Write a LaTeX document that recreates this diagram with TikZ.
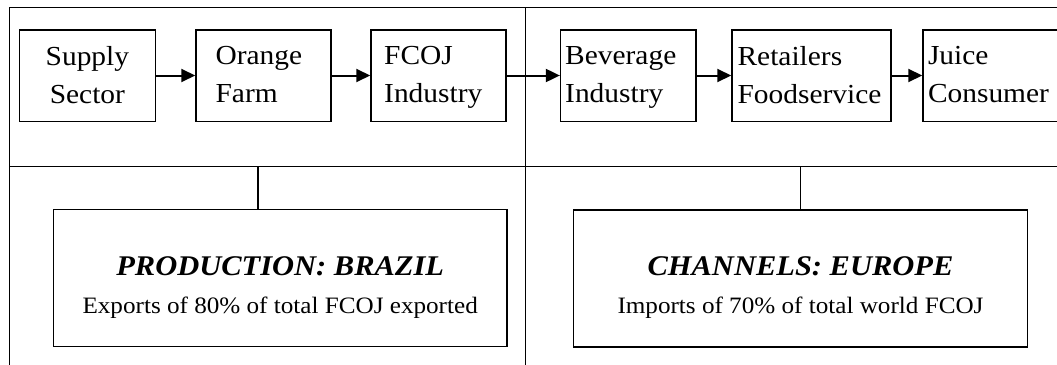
\documentclass[tikz,border=0pt]{standalone}
\usepackage{fontspec}
\setmainfont{Liberation Serif}[FakeStretch=1.07]
\usetikzlibrary{arrows.meta}
\begin{document}
\begin{tikzpicture}[x=1pt,y=-1pt,
  frameline/.style={line width=1.2pt},
  stepbox/.style={draw, line width=1.5pt, minimum height=91.5pt, inner sep=0pt},
  bigbox/.style={draw, line width=1.5pt, minimum height=137pt, minimum width=453.6pt, inner sep=0pt},
  steptext/.style={inner sep=0pt, anchor=north west, align=left, font=\fontsize{27.5}{38}\selectfont},
  boxtext/.style={inner sep=0pt, anchor=north, align=center, font=\fontsize{23.5}{37.7}\selectfont},
  flow/.style={line width=2pt, -{Triangle[length=14pt,width=13pt]}},
  tick/.style={line width=1.2pt}]
\clip (0,0) rectangle (1057,364);
% frame
\coordinate (fbl) at (9.2,400);
\coordinate (ftl) at (9.2,7.4);
\coordinate (ftr) at (1100,7.4);
\coordinate (hl) at (9.2,166.5);
\coordinate (hr) at (1100,166.5);
\coordinate (vt) at (525.5,7.4);
\coordinate (vb) at (525.5,400);
\draw[frameline] (fbl) -- (ftl) -- (ftr);
\draw[frameline] (hl) -- (hr);
\draw[frameline] (vt) -- (vb);
% top boxes
\node[stepbox, minimum width=136.2pt] (s1) at (87.4,75.5) {};
\node[stepbox, minimum width=135pt] (s2) at (263.5,75.5) {};
\node[stepbox, minimum width=135pt] (s3) at (438.5,75.5) {};
\node[stepbox, minimum width=135.4pt] (s4) at (628.3,75.5) {};
\node[stepbox, minimum width=159pt] (s5) at (811.5,75.5) {};
\node[stepbox, minimum width=139pt] (s6) at (992.5,75.5) {};
% texts
\node[steptext, anchor=north, align=center] (t1) at (87.4,46.5) {Supply\\Sector};
\node[steptext] (t2) at (215.4,46.5) {Orange\\Farm};
\node[steptext] (t3) at (384,46.5) {FCOJ\\Industry};
\node[steptext] (t4) at (565,46.5) {Beverage\\Industry};
\node[steptext] (t5) at (737.4,46.5) {Retailers\\Foodservice};
\node[steptext] (t6) at (927.8,46.5) {Juice\\Consumer};
% arrows
\draw[flow] (s1.east) -- (s2.west);
\draw[flow] (s2.east) -- (s3.west);
\draw[flow] (s3.east) -- (s4.west);
\draw[flow] (s4.east) -- (s5.west);
\draw[flow] (s5.east) -- (s6.west);
% bottom boxes
\node[bigbox] (b1) at (280.2,278.2) {};
\node[bigbox] (b2) at (800.5,278.4) {};
\node[boxtext] (bt1) at (280.2,256.5)
  {{\fontsize{28.5}{37.7}\selectfont\bfseries\itshape PRODUCTION: BRAZIL}\\
   Exports of 80\% of total FCOJ exported};
\node[boxtext] (bt2) at (800.5,256.5)
  {{\fontsize{28.5}{37.7}\selectfont\bfseries\itshape CHANNELS: EUROPE}\\
   Imports of 70\% of total world FCOJ};
% ticks
\coordinate (k1) at (258,166.5);
\coordinate (k2) at (800.5,166.5);
\draw[tick] (k1) -- (b1.north -| k1);
\draw[tick] (k2) -- (b2.north);
\end{tikzpicture}
\end{document}
